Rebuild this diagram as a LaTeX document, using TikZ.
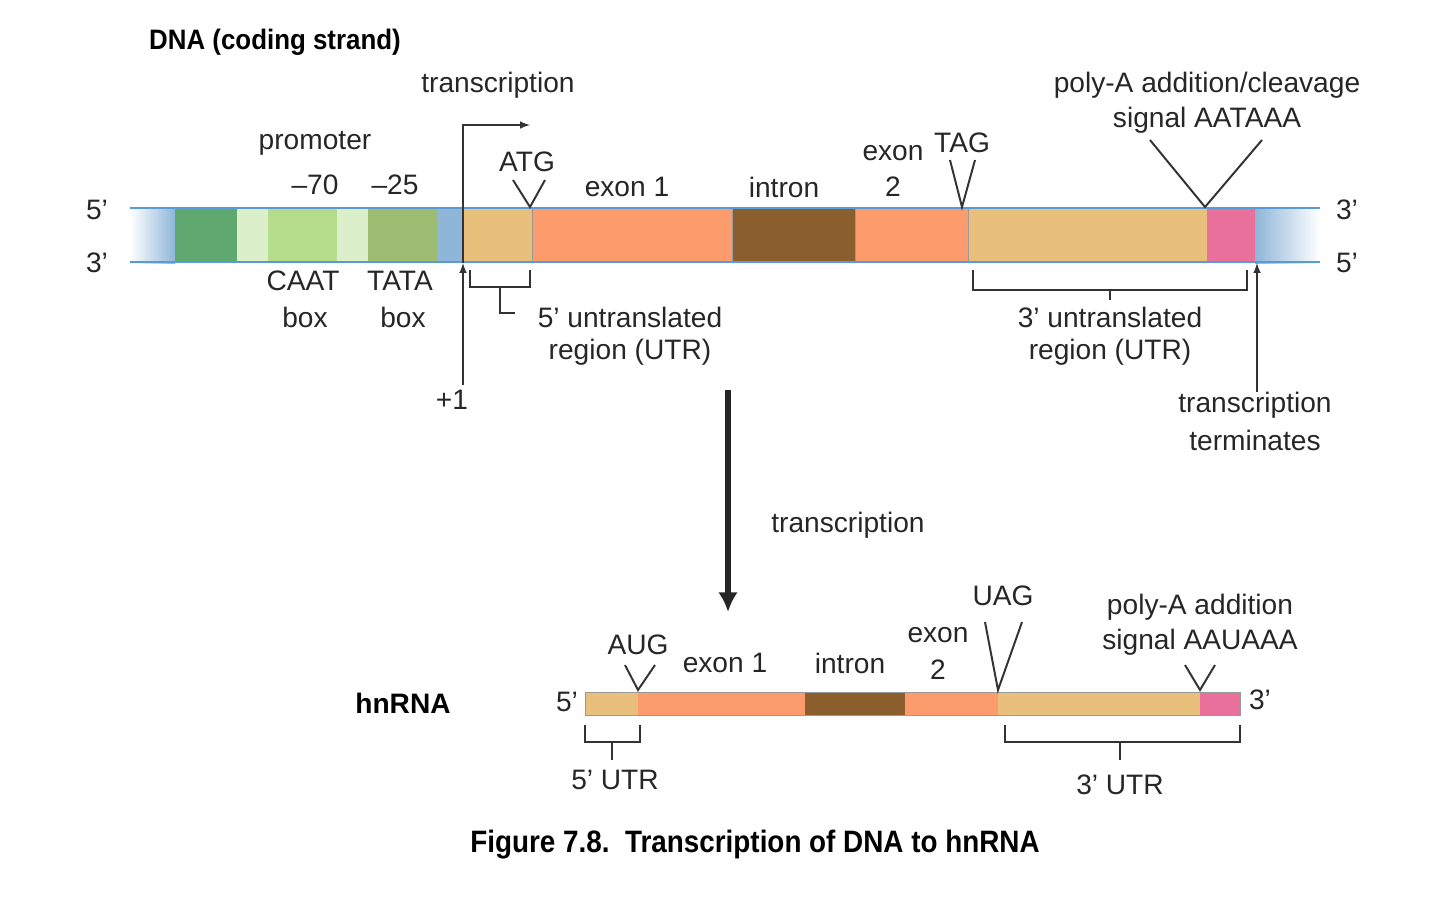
\documentclass[tikz,border=0pt]{standalone}
\usepackage{fontspec}
\setmainfont{Liberation Sans}[Ligatures=ResetAll]
\usetikzlibrary{arrows.meta}
\begin{document}
\begin{tikzpicture}[x=0.025cm,y=-0.025cm,
  lbl/.style={font=\fontsize{20}{22}\selectfont,text=black!85,inner sep=0pt},
  blbl/.style={font=\bfseries\fontsize{20}{22}\selectfont,inner sep=0pt},
  ln/.style={line width=1.4pt,black!80}]
\useasboundingbox (0,0) rectangle (1440,904);
\definecolor{dgreen}{HTML}{5FA870}\definecolor{pale}{HTML}{DCEFCB}
\definecolor{lgreen}{HTML}{B5DC8A}\definecolor{olive}{HTML}{9DBC72}
\definecolor{sblue}{HTML}{8FB5D8}\definecolor{tan}{HTML}{E8C07C}
\definecolor{orng}{HTML}{FC9C6C}\definecolor{brwn}{HTML}{8B5E2E}
\definecolor{pink}{HTML}{E8709A}\definecolor{edge}{HTML}{5B9BD5}
% DNA bar
\shade[left color=white,right color=sblue] (130,207) rectangle (175,263);
\shade[left color=sblue,right color=white] (1255,207) rectangle (1320,263);
\fill[dgreen] (175,209) rectangle (237,261);
\fill[pale] (237,209) rectangle (268,261);
\fill[lgreen] (268,209) rectangle (337,261);
\fill[pale] (337,209) rectangle (368,261);
\fill[olive] (368,209) rectangle (437,261);
\fill[sblue] (437,209) rectangle (463,261);
\fill[tan] (463,209) rectangle (532,261);
\fill[orng] (532,209) rectangle (732,261);
\fill[brwn] (732,209) rectangle (855,261);
\fill[orng] (855,209) rectangle (968,261);
\fill[tan] (968,209) rectangle (1207,261);
\fill[pink] (1207,209) rectangle (1255,261);
\draw[edge,line width=1.5pt] (130,208)--(1320,208) (130,262)--(1320,262);
\foreach \x in {532,732,855,968}{\draw[black!40,line width=0.6pt] (\x,209)--(\x,261);}
% labels top
\node[blbl,xscale=0.92] (dna) at (275,42) {DNA (coding strand)};
\node[lbl] (tr1) at (498,85) {transcription};
\coordinate (ts) at (463,263);
\draw[ln,-latex] (ts) -- (463,125) -- (530,125);
\node[lbl] (prom) at (315,143) {promoter};
\node[lbl] (m70) at (315,185) {–70};
\node[lbl] (m25) at (395,185) {–25};
\node[lbl] (l5) at (97,210) {5'};
\node[lbl] (l3) at (97,263) {3'};
\node[lbl] (r3) at (1347,210) {3'};
\node[lbl] (r5) at (1347,263) {5'};
\node[lbl] (atg) at (527,162) {ATG};
\draw[ln] (513,180)--(530,207)--(545,180);
\node[lbl] (ex1) at (627,187) {exon 1};
\node[lbl] (intr) at (784,187) {intron};
\node[lbl] (ex2) at (893,153) {exon};
\node[lbl] (ex2b) at (893,187) {2};
\node[lbl] (tag) at (962,143) {TAG};
\draw[ln] (950,160)--(962,207)--(975,160);
\node[lbl] (pa1) at (1207,85) {poly-A addition/cleavage};
\node[lbl] (pa2) at (1207,120) {signal AATAAA};
\draw[ln] (1150,140)--(1205,207)--(1262,140);
\node[lbl] (caat) at (303,281) {CAAT};
\node[lbl] (caatb) at (305,317) {box};
\node[lbl] (tata) at (400,281) {TATA};
\node[lbl] (tatab) at (403,317) {box};
\node[lbl] (p1) at (452,400) {+1};
\draw[ln,-latex] (463,385) -- (ts);
\draw[ln] (470,270)--(470,287)--(530,287)--(530,270) (500,287)--(500,313)--(515,313);
\node[lbl] (u5a) at (630,317) {5' untranslated};
\node[lbl] (u5b) at (630,352) {region (UTR)};
\draw[ln] (973,270)--(973,290)--(1247,290)--(1247,270) (1110,290)--(1110,300);
\node[lbl] (u3a) at (1110,317) {3' untranslated};
\node[lbl] (u3b) at (1110,352) {region (UTR)};
\node[lbl] (tt1) at (1255,405) {transcription};
\node[lbl] (tt2) at (1255,440) {terminates};
\draw[ln,-latex] (1257,392) -- (1257,263);
% big arrow
\coordinate (ba) at (728,390);\coordinate (bb) at (728,612);
\draw[line width=4pt,black!85,-{Latex[length=14pt,width=14pt]}] (ba)--(bb);
\node[lbl] (tr2) at (848,525) {transcription};
% hnRNA
\node[blbl] (hn) at (403,703) {hnRNA};
\fill[tan] (585,692) rectangle (638,715);
\fill[orng] (638,692) rectangle (805,715);
\fill[brwn] (805,692) rectangle (905,715);
\fill[orng] (905,692) rectangle (998,715);
\fill[tan] (998,692) rectangle (1200,715);
\fill[pink] (1200,692) rectangle (1240,715);
\draw[black!40,line width=0.6pt] (585,692) rectangle (1240,715);
\node[lbl] (h5) at (567,702) {5'};
\node[lbl] (h3) at (1260,700) {3'};
\node[lbl] (aug) at (638,645) {AUG};
\draw[ln] (625,665)--(638,690)--(655,665);
\node[lbl] (hex1) at (725,663) {exon 1};
\node[lbl] (hint) at (850,663) {intron};
\node[lbl] (hex2) at (938,635) {exon};
\node[lbl] (hex2b) at (938,670) {2};
\node[lbl] (uag) at (1003,596) {UAG};
\draw[ln] (985,622)--(998,690)--(1022,622);
\node[lbl] (hpa1) at (1200,607) {poly-A addition};
\node[lbl] (hpa2) at (1200,642) {signal AAUAAA};
\draw[ln] (1185,665)--(1200,690)--(1215,665);
\draw[ln] (585,725)--(585,742)--(640,742)--(640,725) (612,742)--(612,760);
\node[lbl] (hu5) at (615,780) {5' UTR};
\draw[ln] (1005,725)--(1005,742)--(1240,742)--(1240,725) (1120,742)--(1120,760);
\node[lbl] (hu3) at (1120,785) {3' UTR};
\node[blbl,font=\bfseries\fontsize{22}{24}\selectfont,xscale=0.9] (cap) at (755,845) {Figure 7.8.\ \ Transcription of DNA to hnRNA};
\end{tikzpicture}
\end{document}
